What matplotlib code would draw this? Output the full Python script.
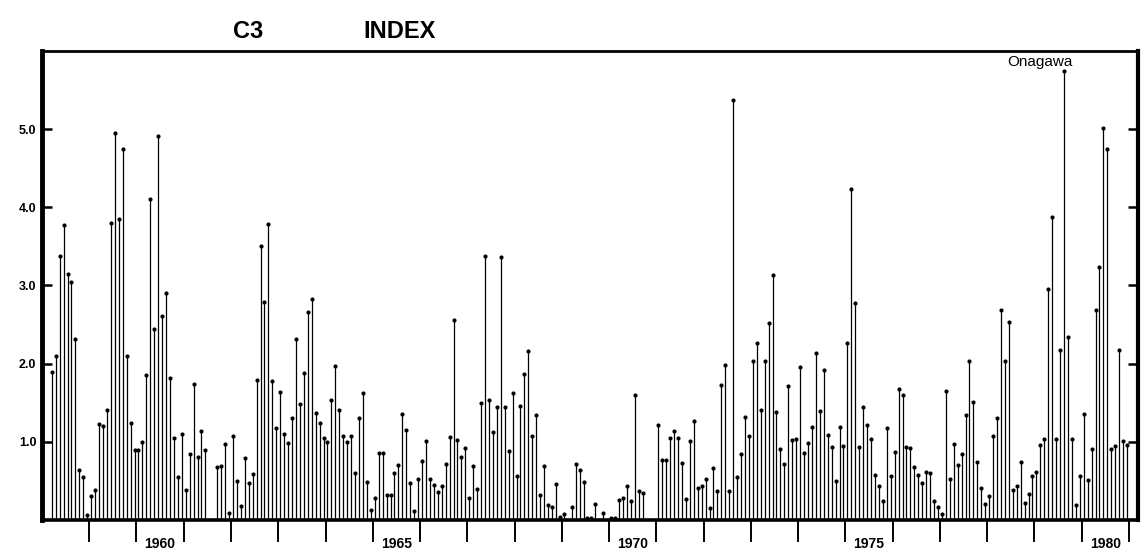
import numpy as np
import matplotlib
matplotlib.use("Agg")
import matplotlib.pyplot as plt

nan = np.nan

# monthly C3 index, Jan..Dec (nan = no data)
c3_1958 = [nan, nan, 1.89, 2.10, 3.38, 3.77, 3.15, 3.04, 2.31, 0.64, 0.55, 0.06]
c3_1959 = [0.31, 0.38, 1.23, 1.20, 1.41, 3.80, 4.95, 3.85, 4.74, 2.10, 1.24, 0.89]
c3_1960 = [0.90, 1.00, 1.86, 4.10, 2.44, 4.91, 2.61, 2.90, 1.81, 1.05, 0.55, 1.10]
c3_1961 = [0.38, 0.85, 1.74, 0.80, 1.14, 0.90, nan, nan, 0.68, 0.69, 0.97, 0.09]
c3_1962 = [1.08, 0.50, 0.18, 0.79, 0.47, 0.59, 1.79, 3.51, 2.79, 3.79, 1.78, 1.18]
c3_1963 = [1.64, 1.10, 0.98, 1.30, 2.32, 1.48, 1.88, 2.66, 2.83, 1.37, 1.24, 1.05]
c3_1964 = [1.00, 1.53, 1.97, 1.41, 1.08, 1.00, 1.07, 0.60, 1.31, 1.62, 0.48, 0.13]
c3_1965 = [0.28, 0.86, 0.86, 0.32, 0.32, 0.60, 0.70, 1.36, 1.15, 0.47, 0.11, 0.52]
c3_1966 = [0.75, 1.01, 0.53, 0.45, 0.36, 0.44, 0.72, 1.06, 2.56, 1.02, 0.80, 0.92]
c3_1967 = [0.28, 0.69, 0.40, 1.50, 3.38, 1.53, 1.13, 1.44, 3.37, 1.44, 0.88, 1.62]
c3_1968 = [0.56, 1.46, 1.87, 2.16, 1.07, 1.34, 0.32, 0.69, 0.19, 0.17, 0.46, 0.04]
c3_1969 = [0.08, nan, 0.16, 0.72, 0.64, 0.49, 0.02, 0.03, 0.21, nan, 0.09, nan]
c3_1970 = [0.03, 0.02, 0.25, 0.28, 0.43, 0.24, 1.60, 0.37, 0.34, nan, nan, nan]
c3_1971 = [1.21, 0.77, 0.77, 1.05, 1.14, 1.05, 0.73, 0.27, 1.01, 1.26, 0.41, 0.44]
c3_1972 = [0.52, 0.15, 0.67, 0.37, 1.73, 1.98, 0.37, 5.37, 0.55, 0.85, 1.32, 1.08]
c3_1973 = [2.03, 2.27, 1.41, 2.03, 2.52, 3.14, 1.38, 0.91, 0.71, 1.71, 1.02, 1.03]
c3_1974 = [1.96, 0.86, 0.98, 1.19, 2.14, 1.39, 1.92, 1.09, 0.94, 0.50, 1.19, 0.95]
c3_1975 = [2.27, 4.23, 2.78, 0.94, 1.45, 1.22, 1.03, 0.58, 0.43, 0.24, 1.18, 0.56]
c3_1976 = [0.87, 1.67, 1.60, 0.94, 0.92, 0.68, 0.58, 0.47, 0.62, 0.60, 0.24, 0.16]
c3_1977 = [0.08, 1.65, 0.53, 0.97, 0.70, 0.85, 1.34, 2.04, 1.51, 0.74, 0.41, 0.21]
c3_1978 = [0.31, 1.07, 1.31, 2.69, 2.04, 2.53, 0.38, 0.44, 0.74, 0.22, 0.33, 0.56]
c3_1979 = [0.62, 0.96, 1.03, 2.96, 3.88, 1.03, 2.18, 5.75, 2.34, 1.03, 0.19, 0.56]
c3_1980 = [1.35, 0.51, 0.91, 2.69, 3.24, 5.02, 4.74, 0.91, 0.95, 2.17, 1.01, 0.96]

FIRST_YEAR = 1958
yearly = [c3_1958, c3_1959, c3_1960, c3_1961, c3_1962, c3_1963, c3_1964, c3_1965,
          c3_1966, c3_1967, c3_1968, c3_1969, c3_1970, c3_1971, c3_1972, c3_1973,
          c3_1974, c3_1975, c3_1976, c3_1977, c3_1978, c3_1979, c3_1980]

year_ticks = list(range(1959, 1982))
year_labels = [1960, 1965, 1970, 1975, 1980]
y_ticks = [1, 2, 3, 4, 5]
y_labels = ["1.0", "2.0", "3.0", "4.0", "5.0"]

values = np.concatenate([np.array(v, dtype=float) for v in yearly])
x = FIRST_YEAR + (np.arange(values.size) + 0.5) / 12.0
ok = ~np.isnan(values)

plt.rcParams["font.family"] = ["Liberation Sans", "DejaVu Sans"]

fig = plt.figure(figsize=(11.43, 5.51), dpi=100)
ax = fig.add_axes([0.0367, 0.0563, 0.9589, 0.8512])

ax.vlines(x[ok], 0, values[ok], color="black", lw=0.9)
ax.plot(x[ok], values[ok], "o", color="black", ms=3.0, mew=0)

ax.set_xlim(1958.0, 1981.19)
ax.set_ylim(0, 6.0)

for side, lw in [("left", 3.5), ("bottom", 2.6), ("top", 2.0), ("right", 3.0)]:
    ax.spines[side].set_linewidth(lw)

ax.set_yticks(y_ticks)
ax.set_yticklabels(y_labels)
ax.tick_params(axis="y", direction="in", length=7, width=1.8, labelsize=9,
               pad=4, right=True)
for lab in ax.get_yticklabels():
    lab.set_fontweight("bold")

ax.set_xticks(year_ticks)
ax.set_xticklabels([])
ax.tick_params(axis="x", which="major", direction="out", length=16, width=1.4)
ax.set_xticks([yr + 0.5 for yr in year_labels], minor=True)
ax.set_xticklabels([str(yr) for yr in year_labels], minor=True, fontweight="bold")
ax.tick_params(axis="x", which="minor", length=0, pad=12, labelsize=10)

fig.text(0.217, 0.942, "C3", fontsize=17, fontweight="bold", ha="center", va="center")
fig.text(0.350, 0.942, "INDEX", fontsize=17, fontweight="bold", ha="center", va="center")
fig.text(0.91, 0.888, "Onagawa", fontsize=11, ha="center", va="center")

fig.savefig("out.png", dpi=100)
